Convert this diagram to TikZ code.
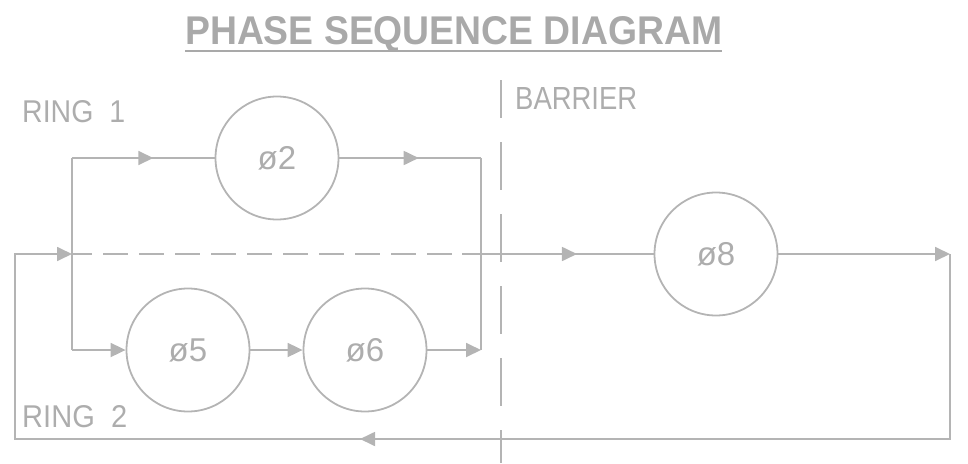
\documentclass[tikz,border=0pt]{standalone}
\usepackage{fontspec}
\setmainfont{Liberation Sans}
\usetikzlibrary{arrows.meta,decorations.markings}
\definecolor{ln}{HTML}{B4B4B4}
\definecolor{tx}{HTML}{ADADAD}
\definecolor{ttl}{HTML}{A9A9A9}
\begin{document}
\begin{tikzpicture}[x=1pt,y=-1pt,
  line/.style={color=ln,line width=1.8pt},
  tip/.style={-{Triangle[length=15pt,width=14pt]}},
  midarrow/.style={postaction={decorate},decoration={markings,mark=at position #1 with {\arrow{Triangle[length=15pt,width=14pt]}}}},
  phase/.style={circle,draw=ln,line width=1.8pt,minimum size=123pt,inner sep=0pt,text=tx,font=\fontsize{33}{33}\selectfont},
  lbl/.style={text=tx,anchor=base west,inner sep=0pt}]
\path[use as bounding box] (0,0) rectangle (968,463);
% title
\node[text=ttl,anchor=base west,inner sep=0pt] (title) at (185,45) {\resizebox{537pt}{28pt}{\bfseries PHASE SEQUENCE DIAGRAM}};
\coordinate (ul1) at (185,51);
\coordinate (ul2) at (722,51);
\draw[color=ttl,line width=2pt] (ul1) -- (ul2);
% labels
\node[lbl] (ring1) at (22,122) {\resizebox{103pt}{22pt}{RING\ \ 1}};
\node[lbl] (ring2) at (22,427) {\resizebox{105pt}{22pt}{RING\ \ 2}};
\node[lbl] (barrier) at (515,109) {\resizebox{122pt}{22pt}{BARRIER}};
% phases
\node[phase] (p2) at (277,158) {ø2};
\node[phase] (p5) at (188,350) {ø5};
\node[phase] (p6) at (365,350) {ø6};
\node[phase] (p8) at (716,254) {ø8};
% coordinates
\coordinate (j) at (72,254);
\coordinate (tl) at (72,158);
\coordinate (bl) at (72,350);
\coordinate (tr) at (481,158);
\coordinate (br) at (481,350);
\coordinate (ds) at (462,254);
\coordinate (re) at (950,254);
\coordinate (rb) at (950,439);
\coordinate (lb) at (15,439);
\coordinate (lm) at (15,254);
\coordinate (bt) at (501,80);
\coordinate (bb) at (501,463);
% barrier
\draw[line,dash pattern=on 48pt off 24pt,dash phase=10pt] (bt) -- (bb);
% ring 1
\draw[line] (tl) -- (bl);
\draw[line,midarrow=0.57] (tl) -- (p2);
\draw[line,midarrow=0.56] (p2) -- (tr);
\draw[line] (tr) -- (br);
% ring 2
\draw[line,tip] (bl) -- (p5);
\draw[line,tip] (p5) -- (p6);
\draw[line,tip] (p6) -- (br);
% main line
\draw[line,dash pattern=on 25pt off 11pt,dash phase=5pt] (j) -- (ds);
\draw[line,midarrow=0.6] (ds) -- (p8);
\draw[line,tip] (p8) -- (re);
\draw[line,midarrow=0.569,tip] (re) -- (rb) -- (lb) -- (lm) -- (j);
\end{tikzpicture}
\end{document}
